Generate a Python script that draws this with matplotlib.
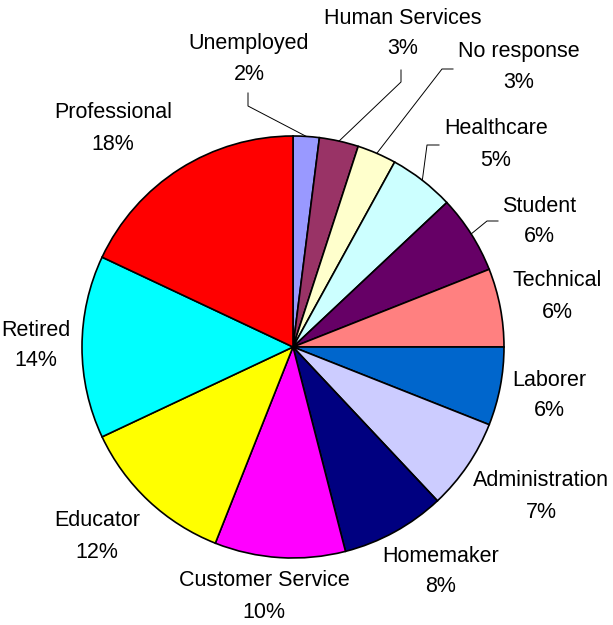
import numpy as np
import matplotlib
matplotlib.use('Agg')
import matplotlib.pyplot as plt

# occupation breakdown, clockwise from 12 o'clock
occupations = ['Unemployed', 'Human Services', 'No response', 'Healthcare', 'Student',
               'Technical', 'Laborer', 'Administration', 'Homemaker', 'Customer Service',
               'Educator', 'Retired', 'Professional']
percents = [2, 3, 3, 5, 6, 6, 6, 7, 8, 10, 12, 14, 18]
colors = ['#9999FF', '#993366', '#FFFFCC', '#CCFFFF', '#660066', '#FF8080', '#0066CC',
          '#CCCCFF', '#000080', '#FF00FF', '#FFFF00', '#00FFFF', '#FF0000']

W, H = 613, 625
cx, cy, R = 293, H - 347, 211

fig = plt.figure(figsize=(W / 100, H / 100), dpi=100)
ax = fig.add_axes([0, 0, 1, 1])

ax.pie(percents, colors=colors, startangle=90, counterclock=False,
       center=(cx, cy), radius=R, frame=True,
       wedgeprops=dict(edgecolor='black', linewidth=1.2))
ax.set_xlim(0, W)
ax.set_ylim(0, H)
ax.set_aspect('equal')
ax.axis('off')

# label centres (name line), in pixels from top-left
label_pos = {
    'Unemployed': (249, 44), 'Human Services': (403, 18), 'No response': (519, 52),
    'Healthcare': (496, 129), 'Student': (539, 206), 'Technical': (557, 281),
    'Laborer': (549, 380), 'Administration': (541, 481), 'Homemaker': (441, 556),
    'Customer Service': (264, 581), 'Educator': (97, 521), 'Retired': (36, 330),
    'Professional': (113, 113),
}
# leader lines: start point near the label and elbow point
leaders = {
    'Unemployed': ((248, 93), (248, 106)),
    'Human Services': ((401, 70), (401, 82)),
    'No response': ((453, 69), (442, 69)),
    'Healthcare': ((439, 145), (427, 145)),
    'Student': ((498, 221), (487, 221)),
}

font = dict(family=['Liberation Sans', 'DejaVu Sans'], fontsize=15.5, color='black')
cum = np.cumsum([0] + percents)
for i, name in enumerate(occupations):
    lx, ly = label_pos[name]
    ax.text(lx, H - ly, name, ha='center', va='center', **font)
    ax.text(lx, H - ly - 31, f'{percents[i]}%', ha='center', va='center', **font)
    if name in leaders:
        mid = np.deg2rad(90 - (cum[i] + percents[i] / 2) * 3.6)
        ex, ey = cx + R * np.cos(mid), cy + R * np.sin(mid)
        (x0, y0), (x1, y1) = leaders[name]
        ax.plot([x0, x1, ex], [H - y0, H - y1, ey], color='black', lw=0.7)

fig.savefig('out.png', dpi=100, facecolor='white')
